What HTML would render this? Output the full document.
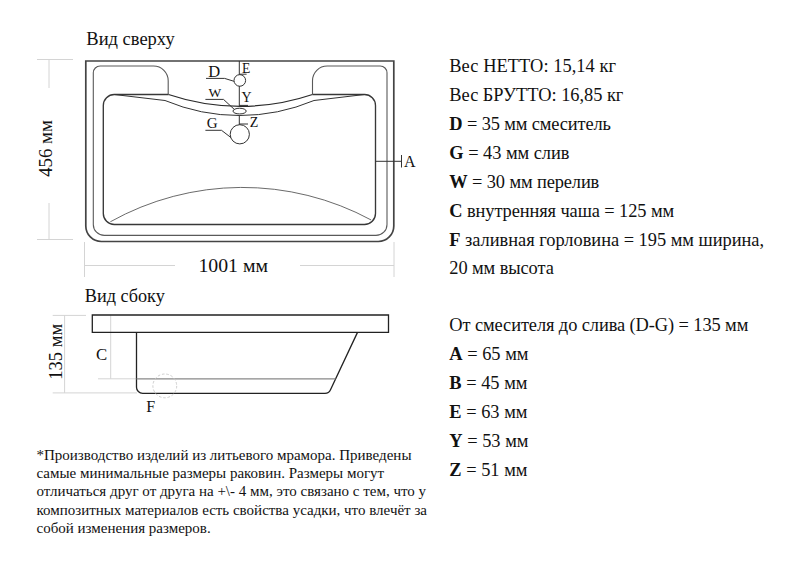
<!DOCTYPE html>
<html><head><meta charset="utf-8">
<style>
html,body{margin:0;padding:0;background:#fff;}
body{width:800px;height:568px;overflow:hidden;position:relative;}
svg{position:absolute;left:0;top:0;}
text{font-family:"Liberation Serif",serif;fill:#111;stroke:none;}
</style></head><body>
<svg width="800" height="568" viewBox="0 0 800 568">
<!-- ===== TOP VIEW ===== -->
<text x="86.3" y="45.3" font-size="18.5">Вид сверху</text>
<!-- vertical dimension 456 -->
<g stroke="#d4d4d4" stroke-width="1" fill="none">
<path d="M37,59.5H73M49,59.5V88M49,203V239.5M37,239.5H73"/>
<path d="M84.5,242V277M394,242V277M85,265.5H175M300,265.5H394"/>
</g>
<text transform="translate(51.6,148.5) rotate(-90)" text-anchor="middle" font-size="18.8">456 мм</text>
<text x="233.2" y="272" text-anchor="middle" font-size="19.8">1001 мм</text>

<!-- outer -->
<path d="M85.8,61H393.8V226A15.5,15.5 0 0 1 378.3,241.5H101.3A15.5,15.5 0 0 1 85.8,226Z" fill="none" stroke="#444" stroke-width="1.7"/>
<!-- rim -->
<path d="M168.2,94.3V80.7A14.7,14.7 0 0 0 153.5,66H100.1A6.8,6.8 0 0 0 93.3,72.8V224.4A11,11 0 0 0 104.3,235.4H376A11,11 0 0 0 387,224.4V72.8A6.8,6.8 0 0 0 380.2,66H327.2A14.7,14.7 0 0 0 312.5,80.7V94.3" fill="none" stroke="#5a5a5a" stroke-width="1.1"/>
<!-- basin -->
<path d="M168.5,94.5H114.3A11,11 0 0 0 103.3,105.5V213.5A11,11 0 0 0 114.3,224.5H364.5A11,11 0 0 0 375.5,213.5V105.5A11,11 0 0 0 364.5,94.5H312.5" fill="none" stroke="#383838" stroke-width="1.35"/>
<!-- front edge curves -->
<path d="M168.5,94.5A225,225 0 0 0 312.5,94.5" fill="none" stroke="#2a2a2a" stroke-width="1.3"/>
<path d="M114.3,94.5L165,100.5A192.5,192.5 0 0 0 314,100.5L364.5,94.5" fill="none" stroke="#333" stroke-width="1"/>
<!-- bottom arc -->
<path d="M110.3,221.8A271,271 0 0 1 371.2,220" fill="none" stroke="#444" stroke-width="0.8"/>
<!-- center features -->
<g fill="none" stroke="#333" stroke-width="1">
<path d="M239.3,61V74.7M239.3,86V106M239.3,115V124.8"/>
<path d="M239.3,74.2H246.6M239.3,105.4H248M239.3,124H248"/>
<circle cx="239.8" cy="80.45" r="5.8"/>
<ellipse cx="239.6" cy="111.1" rx="6.6" ry="2.85"/>
<circle cx="239.8" cy="134.3" r="9.6"/>
<path d="M206,78.4H224.6L234,81.3"/>
<path d="M205.4,99.4H223.5L234.3,109.4"/>
<path d="M205.4,130.3H221.5L231,137.6"/>
</g>
<text x="208.3" y="76.7" font-size="16.5">D</text>
<text x="242" y="72.7" font-size="13.6">E</text>
<text x="208.6" y="97.4" font-size="13.5">W</text>
<text x="241.6" y="102.4" font-size="14">Y</text>
<text x="206.8" y="128.3" font-size="15">G</text>
<text x="249.8" y="126.5" font-size="14">Z</text>
<!-- A marker -->
<g fill="none" stroke="#333" stroke-width="1">
<path d="M375.5,161.3H401.5M401.5,155V167.5"/>
</g>
<text x="404" y="166.8" font-size="16">A</text>

<!-- ===== SIDE VIEW ===== -->
<text x="84.8" y="301.7" font-size="18.2">Вид сбоку</text>
<g stroke="#d4d4d4" stroke-width="1" fill="none">
<path d="M52.7,315.4H86M64.6,315.4V392.9M52.7,392.9H137"/>
<path d="M110.7,315.4V378.8M98,378.8H137"/>
</g>
<text transform="translate(62.2,351.8) rotate(-90)" text-anchor="middle" font-size="18.5">135 мм</text>
<text x="96" y="359.8" font-size="16.8">C</text>
<text x="146.3" y="411.6" font-size="16">F</text>
<path d="M92.3,315H388.5V332.4H92.3Z" fill="none" stroke="#222" stroke-width="1.3"/>
<path d="M136.5,332.4V387.2A6.2,6.2 0 0 0 142.7,393.4H325A6,6 0 0 0 330.5,389.8L357.5,332.4" fill="none" stroke="#222" stroke-width="1.3"/>
<path d="M136.5,378.8H335.5" fill="none" stroke="#888" stroke-width="1.2"/>
<circle cx="164.8" cy="385.9" r="11.9" fill="none" stroke="#c8c8c8" stroke-width="0.9" stroke-dasharray="2.6,1.8"/>

<!-- ===== RIGHT TEXT ===== -->
<g font-size="18.4">
<text x="449.3" y="71.6" textLength="166.7" lengthAdjust="spacing">Вес НЕТТО: 15,14 кг</text>
<text x="449.3" y="101" textLength="174.1" lengthAdjust="spacing">Вес БРУТТО: 16,85 кг</text>
<text x="449.3" y="130.1" textLength="161.6" lengthAdjust="spacing"><tspan font-weight="bold">D</tspan> = 35 мм смеситель</text>
<text x="449.3" y="158.7" textLength="120.1" lengthAdjust="spacing"><tspan font-weight="bold">G</tspan> = 43 мм слив</text>
<text x="449.3" y="187.9" textLength="150.0" lengthAdjust="spacing"><tspan font-weight="bold">W</tspan> = 30 мм перелив</text>
<text x="449.3" y="217" textLength="224.8" lengthAdjust="spacing"><tspan font-weight="bold">C</tspan> внутренняя чаша = 125 мм</text>
<text x="449.3" y="245.5" textLength="314.7" lengthAdjust="spacing"><tspan font-weight="bold">F</tspan> заливная горловина = 195 мм ширина,</text>
<text x="449.3" y="274" textLength="104.5" lengthAdjust="spacing">20 мм высота</text>
<text x="449.3" y="330.5" textLength="299.0" lengthAdjust="spacing">От смесителя до слива (D-G) = 135 мм</text>
<text x="449.3" y="359.5"><tspan font-weight="bold">A</tspan> = 65 мм</text>
<text x="449.3" y="388.5"><tspan font-weight="bold">B</tspan> = 45 мм</text>
<text x="449.3" y="417.5"><tspan font-weight="bold">E</tspan> = 63 мм</text>
<text x="449.3" y="446.5"><tspan font-weight="bold">Y</tspan> = 53 мм</text>
<text x="449.3" y="475.5"><tspan font-weight="bold">Z</tspan> = 51 мм</text>
</g>

<!-- ===== FOOTNOTE ===== -->
<g font-size="15">
<text x="36.5" y="460.2">*Производство изделий из литьевого мрамора. Приведены</text>
<text x="36.5" y="477.9">самые минимальные размеры раковин. Размеры могут</text>
<text x="36.5" y="496">отличаться друг от друга на +\- 4 мм, это связано с тем, что у</text>
<text x="36.5" y="514.6">композитных материалов есть свойства усадки, что влечёт за</text>
<text x="36.5" y="533">собой изменения размеров.</text>
</g>
</svg>
</body></html>
